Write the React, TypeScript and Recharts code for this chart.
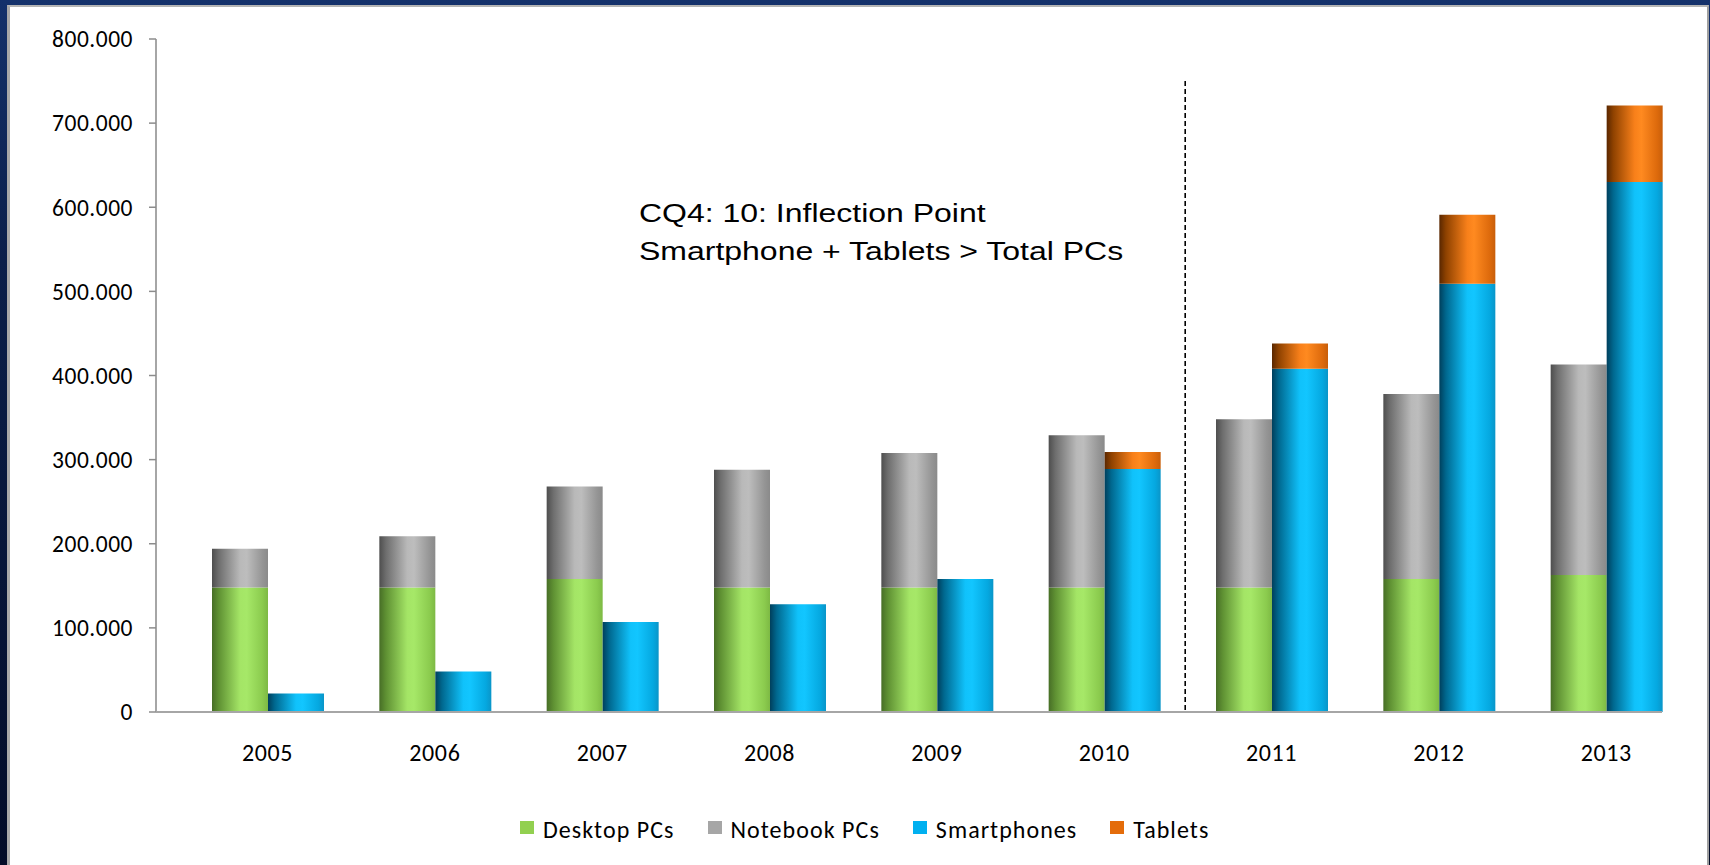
import React from "react";
import { BarChart, Bar, XAxis, YAxis, Legend } from "recharts";

// ---- data (values in thousands of units) ----
const years = ["2005", "2006", "2007", "2008", "2009", "2010", "2011", "2012", "2013"];
const desktopPCs = [148, 148, 158, 148, 148, 148, 148, 158, 163];
const notebookPCs = [46, 61, 110, 140, 160, 181, 200, 220, 250];
const smartphones = [22, 48, 107, 128, 158, 289, 408, 509, 630];
const tablets = [0, 0, 0, 0, 0, 20, 30, 82, 91];
// dashed divider drawn in the empty slot before 2011, up to this height
const dividerLine = [0, 0, 0, 0, 0, 0, 750, 0, 0];

const yTicks = [0, 100, 200, 300, 400, 500, 600, 700, 800];
const seriesNames = ["Desktop PCs", "Notebook PCs", "Smartphones", "Tablets"];
const legendColors = ["#92d050", "#a6a6a6", "#00b0f0", "#e46c0a"];
const annotationLines = ["CQ4: 10: Inflection Point", "Smartphone + Tablets > Total PCs"];

const data = years.map((year, i) => ({
  year,
  divider: dividerLine[i],
  desktop: desktopPCs[i],
  notebook: notebookPCs[i],
  smart: smartphones[i],
  tablets: tablets[i],
}));

const FONT = "Carlito, Calibri, Lato, sans-serif";

const XTick = (props: any) => {
  const { x, y, payload, width, visibleTicksCount } = props;
  const half =
    payload && typeof payload.offset === "number" && payload.offset > 0
      ? payload.offset
      : width / visibleTicksCount / 2;
  return (
    <text
      x={x + half / 3}
      y={y}
      dy="0.71em"
      textAnchor="middle"
      fontFamily={FONT}
      fontSize={24}
      letterSpacing={0.6}
      fill="#000"
    >
      {payload.value}
    </text>
  );
};

const DividerShape = (p: any) => {
  if (!p || !(p.height > 0)) return <g />;
  const x = p.x + p.width * 0.45;
  return (
    <line
      x1={x}
      x2={x}
      y1={p.y}
      y2={p.y + p.height}
      stroke="#000"
      strokeWidth={1.6}
      strokeDasharray="5 3"
    />
  );
};

const LegendContent = () => (
  <div
    style={{
      display: "flex",
      alignItems: "center",
      fontFamily: FONT,
      fontSize: 24,
      letterSpacing: 1.05,
      color: "#000",
      whiteSpace: "nowrap",
    }}
  >
    {seriesNames.map((n, i) => (
      <div key={n} style={{ display: "flex", alignItems: "center", marginRight: 33 }}>
        <div style={{ width: 14, height: 13, background: legendColors[i], marginRight: 9, marginTop: -5 }} />
        <span>{n}</span>
      </div>
    ))}
  </div>
);

const grad = (id: string, stops: [string, string][]) => (
  <linearGradient id={id} x1="0" y1="0" x2="1" y2="0">
    {stops.map(([o, c]) => (
      <stop key={o} offset={o} stopColor={c} />
    ))}
  </linearGradient>
);

export default function App() {
  return (
    <div
      style={{
        position: "absolute",
        left: 0,
        top: 0,
        width: 1710,
        height: 865,
        overflow: "hidden",
        background: "linear-gradient(180deg, #14316b 0%, #0b1f4a 30%, #030c28 100%)",
      }}
    >
      <div
        style={{
          position: "absolute",
          left: 7,
          top: 5,
          width: 1702,
          height: 860,
          background: "#fff",
          borderLeft: "3px solid #a8a8a8",
          borderTop: "2px solid #b4b4b4",
          borderRight: "2px solid #a0a0a0",
          boxSizing: "border-box",
        }}
      />
      <div style={{ position: "absolute", left: 0, top: 0 }}>
        <BarChart
          width={1710}
          height={865}
          data={data}
          margin={{ top: 39, right: 48, bottom: 93, left: 0 }}
          barCategoryGap={0}
          barGap={0}
        >
          <defs>
            {grad("gDesk", [["0", "#476e26"], ["0.12", "#5f9133"], ["0.5", "#a4e566"], ["0.62", "#a6e868"], ["0.9", "#8bcb4e"], ["1", "#7db944"]])}
            {grad("gNote", [["0", "#4e4e4e"], ["0.12", "#6e6e6e"], ["0.5", "#b9b9b9"], ["0.62", "#bdbdbd"], ["0.9", "#959595"], ["1", "#8a8a8a"]])}
            {grad("gSmart", [["0", "#003f5c"], ["0.12", "#00688f"], ["0.5", "#10c2fb"], ["0.62", "#12c6ff"], ["0.9", "#05a8e0"], ["1", "#0a95c8"]])}
            {grad("gTab", [["0", "#5a2700"], ["0.12", "#8f4200"], ["0.5", "#f8801a"], ["0.62", "#ff8a20"], ["0.9", "#dd6a0c"], ["1", "#c85e0a"]])}
          </defs>
          <XAxis
            dataKey="year"
            axisLine={{ stroke: "#a6a6a6", strokeWidth: 2 }}
            tickLine={false}
            tickSize={0}
            tickMargin={32}
            height={60}
            interval={0}
            tick={<XTick />}
          />
          <YAxis
            width={156}
            domain={[0, 800]}
            ticks={yTicks}
            interval={0}
            axisLine={{ stroke: "#a6a6a6", strokeWidth: 2 }}
            tickLine={{ stroke: "#8c8c8c", strokeWidth: 1.5 }}
            tickSize={7}
            tickMargin={16}
            tickFormatter={(v: number) => (v === 0 ? "0" : `${v}.000`)}
            tick={{ fontFamily: FONT, fontSize: 23.5, letterSpacing: 0.5, fill: "#000" }}
          />
          <Bar dataKey="divider" stackId="spacer" fill="none" legendType="none" shape={DividerShape} isAnimationActive={false} />
          <Bar dataKey="desktop" name={seriesNames[0]} stackId="pc" fill="url(#gDesk)" isAnimationActive={false} />
          <Bar dataKey="notebook" name={seriesNames[1]} stackId="pc" fill="url(#gNote)" isAnimationActive={false} />
          <Bar dataKey="smart" name={seriesNames[2]} stackId="mob" fill="url(#gSmart)" isAnimationActive={false} />
          <Bar dataKey="tablets" name={seriesNames[3]} stackId="mob" fill="url(#gTab)" isAnimationActive={false} />
          <Legend
            layout="horizontal"
            verticalAlign="middle"
            align="center"
            wrapperStyle={{ top: 815, left: 520, width: "auto" }}
            content={<LegendContent />}
          />
        </BarChart>
      </div>
      <div
        style={{
          position: "absolute",
          left: 639,
          top: 194,
          fontFamily: "'Liberation Sans', Arial, sans-serif",
          fontSize: 26,
          lineHeight: "38px",
          color: "#000",
          whiteSpace: "nowrap",
          transform: "scaleX(1.23)",
          transformOrigin: "left top",
        }}
      >
        {annotationLines.map((l) => (
          <div key={l}>{l}</div>
        ))}
      </div>
    </div>
  );
}
